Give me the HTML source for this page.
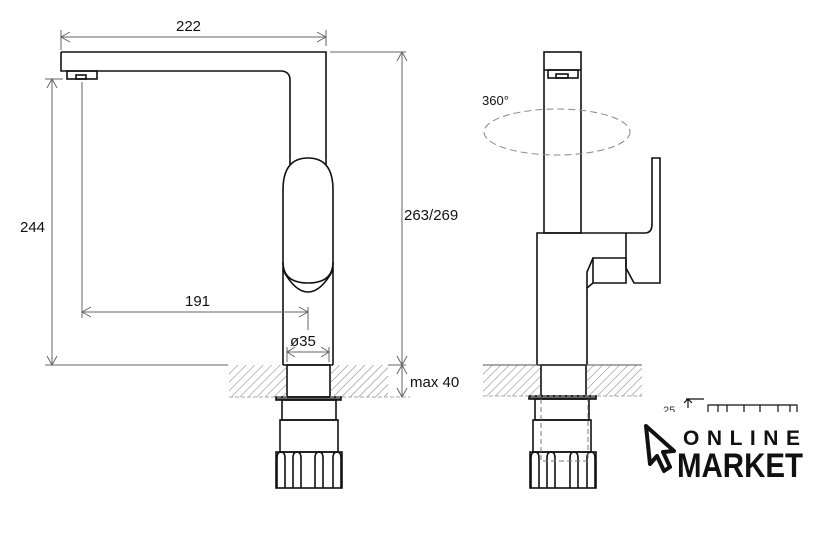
<!DOCTYPE html>
<html><head><meta charset="utf-8"><style>
html,body{margin:0;padding:0;background:#fff;}
svg{display:block;}
text{font-family:"Liberation Sans",Arial,sans-serif;}
</style></head><body>
<svg width="817" height="538" viewBox="0 0 817 538" xmlns="http://www.w3.org/2000/svg">
<defs>
<pattern id="h" width="6" height="6" patternUnits="userSpaceOnUse" patternTransform="rotate(45)">
<line x1="0" y1="0" x2="0" y2="6" stroke="#555" stroke-width="0.8"/>
</pattern>
</defs>
<rect width="817" height="538" fill="#fff"/>

<g fill="none" stroke="#111" stroke-width="1.6">
<path d="M61,52 H326 V165"/>
<path d="M61,52 V71 H282 Q290,72 290,80 V165"/>
<rect x="67" y="71" width="30" height="8"/>
<rect x="76" y="75" width="10" height="4"/>
<path d="M283,190 Q283,158 308,158 Q333,158 333,190 V262 Q333,283 308,283 Q283,283 283,262 Z"/>
<path d="M283,270 Q295,292 308,292 Q321,292 333,270"/>
<path d="M283,262 V365 M333,262 V365"/>
<line x1="283" y1="365" x2="333" y2="365"/>
<rect x="287" y="365" width="43" height="32"/>
<rect x="276" y="397" width="65" height="3" fill="#666"/>
<rect x="282" y="400" width="54" height="20"/>
<rect x="280" y="420" width="58" height="32"/>
<rect x="276" y="452" width="66" height="36"/>
<path d="M277,488 V458 Q277,452 281,452 Q285,452 285,458 V488"/>
<path d="M293,488 V458 Q293,452 297,452 Q301,452 301,458 V488"/>
<path d="M315,488 V458 Q315,452 319,452 Q323,452 323,458 V488"/>
<path d="M333,488 V458 Q333,452 337,452 Q341,452 341,458 V488"/>
</g>
<rect x="229" y="365" width="58" height="32" fill="url(#h)"/>
<rect x="330" y="365" width="58" height="32" fill="url(#h)"/>
<line x1="229" y1="397" x2="287" y2="397" stroke="#aaa" stroke-width="1" stroke-dasharray="4,2"/>
<line x1="330" y1="397" x2="410" y2="397" stroke="#aaa" stroke-width="1" stroke-dasharray="4,2"/>

<g stroke="#666" stroke-width="1" fill="none">
<line x1="61" y1="30" x2="61" y2="50"/>
<line x1="326" y1="30" x2="326" y2="46"/>
<line x1="61" y1="37" x2="326" y2="37"/>
<path d="M70,32 L61,37 L70,42 M317,32 L326,37 L317,42"/>
<line x1="330" y1="52" x2="406" y2="52"/>
<line x1="402" y1="52" x2="402" y2="397"/>
<path d="M397,61 L402,52 L407,61 M397,356 L402,365 L407,356 M397,374 L402,365 L407,374 M397,388 L402,397 L407,388"/>
<line x1="388" y1="365" x2="406" y2="365"/>
<line x1="45" y1="79" x2="63" y2="79"/>
<line x1="52" y1="79" x2="52" y2="365"/>
<path d="M47,88 L52,79 L57,88 M47,356 L52,365 L57,356"/>
<line x1="45" y1="365" x2="228" y2="365"/>
<line x1="82" y1="82" x2="82" y2="318"/>
<line x1="82" y1="312" x2="308" y2="312"/>
<path d="M91,307 L82,312 L91,317 M299,307 L308,312 L299,317"/>
<line x1="308" y1="307" x2="308" y2="330"/>
<line x1="287" y1="347" x2="287" y2="362"/>
<line x1="329" y1="347" x2="329" y2="362"/>
<line x1="287" y1="352" x2="329" y2="352"/>
<path d="M295,347 L287,352 L295,357 M321,347 L329,352 L321,357"/>
</g>
<g font-size="15" fill="#111">
<text x="176" y="31">222</text>
<text x="20" y="232">244</text>
<text x="185" y="306">191</text>
<text x="290" y="346">ø35</text>
<text x="404" y="220">263/269</text>
<text x="410" y="387">max 40</text>
</g>

<g fill="none" stroke="#111" stroke-width="1.6">
<rect x="544" y="52" width="37" height="181"/>
<line x1="544" y1="70" x2="581" y2="70"/>
<rect x="548" y="70" width="30" height="8"/>
<rect x="556" y="74" width="12" height="4"/>
<path d="M537,365 V233 H645 Q652,233 652,224 V158 H660 V283 H634 L626,268 V233"/>
<path d="M587,365 V288 L593,283 V258 H626 V283 H593"/>
<path d="M593,258 L587,272 V288"/>
<line x1="537" y1="365" x2="587" y2="365"/>
<rect x="541" y="365" width="45" height="31"/>
<rect x="529" y="396" width="67" height="3" fill="#666"/>
<rect x="535" y="399" width="54" height="21"/>
<rect x="533" y="420" width="58" height="32"/>
<rect x="530" y="452" width="66" height="36"/>
<path d="M531,488 V458 Q531,452 535,452 Q539,452 539,458 V488"/>
<path d="M547,488 V458 Q547,452 551,452 Q555,452 555,458 V488"/>
<path d="M570,488 V458 Q570,452 574,452 Q578,452 578,458 V488"/>
<path d="M587,488 V458 Q587,452 591,452 Q595,452 595,458 V488"/>
</g>
<path d="M541,399 V461 H588 V399" fill="none" stroke="#777" stroke-width="1" stroke-dasharray="5,3"/>
<rect x="483" y="365" width="58" height="31" fill="url(#h)"/>
<rect x="586" y="365" width="56" height="31" fill="url(#h)"/>
<line x1="483" y1="365" x2="642" y2="365" stroke="#555" stroke-width="1"/>
<line x1="483" y1="396" x2="642" y2="396" stroke="#aaa" stroke-width="1" stroke-dasharray="4,2"/>
<ellipse cx="557" cy="132" rx="73" ry="23" fill="none" stroke="#888" stroke-width="1" stroke-dasharray="7,4"/>
<text x="482" y="105" font-size="13" fill="#111">360°</text>

<g stroke="#111" stroke-width="1.2" fill="none">
<path d="M708,412 V405 H797 V412 M718,405 V412 M727,405 V412 M744,405 V412 M760,405 V412 M778,405 V412 M790,405 V412"/>
<path d="M688,408 V399 M684,403 L688,399 L692,403 M686,399 H704"/>
</g>
<text x="663" y="414" font-size="11" fill="#333">25</text>
<rect x="640" y="412" width="177" height="8" fill="#fff"/>

<path d="M646,426 L674,451 L663,452 L670,467 L664,471 L657,456 L650,464 Z" fill="#fff" stroke="#111" stroke-width="4" stroke-linejoin="round"/>
<text x="683" y="445" font-size="21" font-weight="bold" fill="#111" textLength="117" lengthAdjust="spacing">ONLINE</text>
<text x="677" y="477" font-size="34" font-weight="bold" fill="#111" textLength="126" lengthAdjust="spacingAndGlyphs">MARKET</text>
</svg>
</body></html>
